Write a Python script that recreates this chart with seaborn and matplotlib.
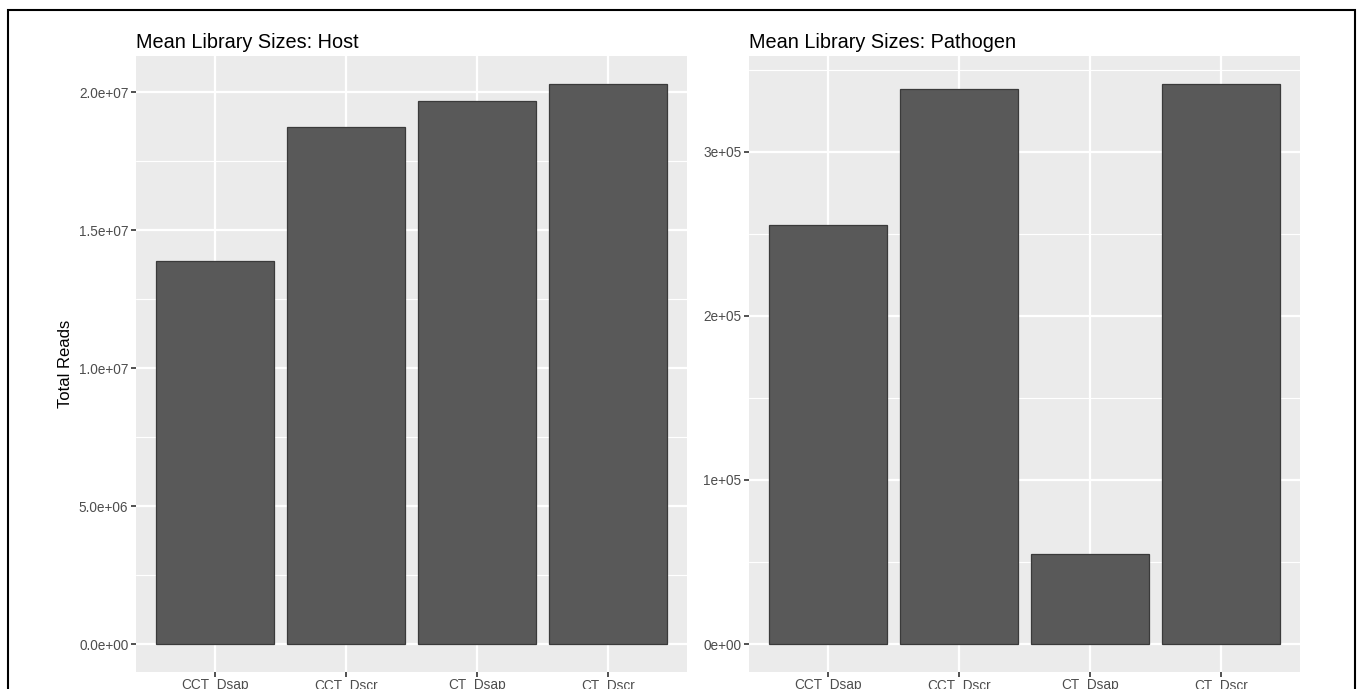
import matplotlib
matplotlib.use("Agg")
import matplotlib.pyplot as plt
from matplotlib.patches import Rectangle
from matplotlib.ticker import MultipleLocator, FuncFormatter
import seaborn as sns
import pandas as pd

# Mean library sizes per sample group
groups = ["CCT_Dsap", "CCT_Dscr", "CT_Dsap", "CT_Dscr"]
host_reads = [1.387e7, 1.873e7, 1.967e7, 2.029e7]
pathogen_reads = [2.553e5, 3.383e5, 0.546e5, 3.414e5]

sns.set_theme(style="darkgrid")
plt.rcParams["font.family"] = ["Liberation Sans", "DejaVu Sans"]

PANEL_BG = "#EBEBEB"
BAR_FILL = "#595959"

fig = plt.figure(figsize=(13.58, 6.89), dpi=100)
fig.patch.set_facecolor("white")

W, H = 1358, 689
def axes_at(x0, x1, y0, y1):
    return fig.add_axes([x0 / W, 1 - y1 / H, (x1 - x0) / W, (y1 - y0) / H])

ax_host = axes_at(136, 687, 56, 672)
ax_path = axes_at(749, 1300, 56, 672)

def fmt_host(v, pos):
    m, e = f"{v:.1e}".split("e")
    return f"{m}e{'+' if int(e) >= 0 else '-'}{abs(int(e)):02d}"

def fmt_path(v, pos):
    m, e = f"{v:.0e}".split("e")
    return f"{m}e{'+' if int(e) >= 0 else '-'}{abs(int(e)):02d}"

def draw_panel(ax, values, title, major, fmt, ylabel):
    df = pd.DataFrame({"group": groups, "reads": values})
    sns.barplot(data=df, x="group", y="reads", ax=ax, color=BAR_FILL,
                saturation=1, width=0.9, edgecolor="#3a3a3a", linewidth=0.9,
                zorder=3)
    top = max(values)
    ax.set_ylim(-0.05 * top, 1.05 * top)
    ax.set_xlim(-0.6, len(groups) - 0.4)
    ax.set_facecolor(PANEL_BG)
    ax.yaxis.set_major_locator(MultipleLocator(major))
    ax.yaxis.set_minor_locator(MultipleLocator(major / 2))
    ax.yaxis.set_major_formatter(FuncFormatter(fmt))
    ax.grid(True, which="major", axis="both", color="white", linewidth=1.6, zorder=0)
    ax.grid(True, which="minor", axis="y", color="white", linewidth=0.8, zorder=0)
    ax.set_axisbelow(True)
    for s in ax.spines.values():
        s.set_visible(False)
    ax.tick_params(axis="both", which="major", length=3.5, width=1.2,
                   color="#333333", labelcolor="#4D4D4D", labelsize=9.8,
                   pad=2, left=True, bottom=True)
    ax.tick_params(axis="x", which="major", pad=0.5)
    ax.tick_params(axis="y", which="minor", length=0)
    ax.set_xlabel("")
    ax.set_ylabel(ylabel, fontsize=12, color="black", labelpad=4)
    ax.set_title(title, loc="left", fontsize=14.3, color="black", pad=6)

draw_panel(ax_host, host_reads, "Mean Library Sizes: Host", 5e6, fmt_host, "Total Reads")
draw_panel(ax_path, pathogen_reads, "Mean Library Sizes: Pathogen", 1e5, fmt_path, "")

# Outer frame around the figure
frame = Rectangle((8 / W, -0.1), (1355 - 8) / W, 1 - 10 / H + 0.1,
                  transform=fig.transFigure, fill=False,
                  edgecolor="black", linewidth=1.5)
fig.patches.append(frame)

fig.savefig("out.png", dpi=100)
